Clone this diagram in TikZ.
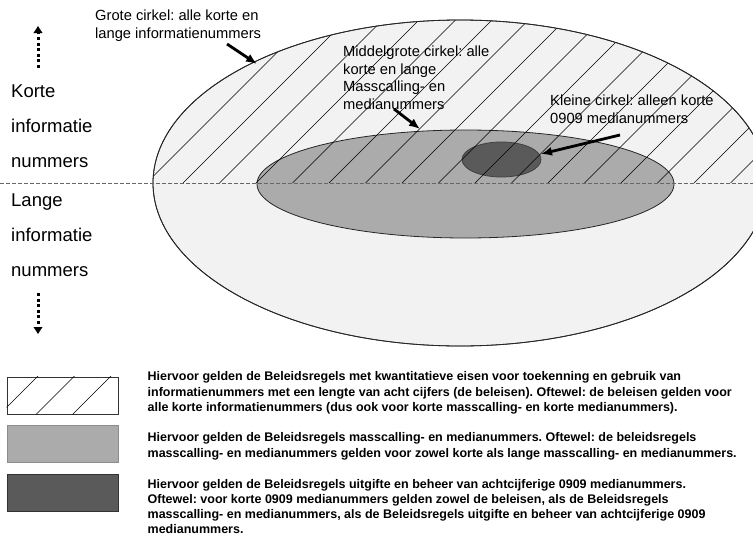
\documentclass[tikz,border=0pt]{standalone}
\usepackage{fontspec}
\setsansfont{Liberation Sans}
\usetikzlibrary{arrows.meta,positioning}
\definecolor{outergray}{HTML}{F2F2F2}
\definecolor{middlegray}{HTML}{ABABAB}
\definecolor{innergray}{HTML}{5A5A5A}
\frenchspacing

\begin{document}
\begin{tikzpicture}[x=1pt,y=-1pt,
    ring/.style={draw=black!85,line width=0.8pt},
    hatchline/.style={black,line width=0.6pt},
    cut/.style={draw=black!60,line width=1pt,dash pattern=on 3.5pt off 2.5pt},
    side/.style={inner sep=0pt,anchor=base west,font=\sffamily\fontsize{18.5}{22}\selectfont},
    annot/.style={inner sep=0pt,anchor=north west,align=left,
      font=\sffamily\fontsize{14.7}{17.5}\selectfont},
    pointer/.style={-{Latex[length=11pt,width=9pt]},line width=2.8pt},
    updown/.style={-{Triangle[length=7pt,width=8.5pt]},line width=3pt,
      dash pattern=on 3pt off 2.6pt},
    legbox/.style={rectangle,minimum width=111pt,minimum height=37pt,
      inner sep=0pt,line width=0.9pt},
    legtext/.style={inner sep=0pt,align=left,
      font=\sffamily\bfseries\fontsize{12.5}{15.2}\selectfont}]

  \useasboundingbox (0,0) rectangle (753,538);

  \begin{scope}
    \clip (0,0) rectangle (753,538);
    \path[ring,fill=outergray] (460,183) ellipse [x radius=307pt,y radius=163pt];
    \path[ring,fill=middlegray] (465.5,184) ellipse [x radius=208.5pt,y radius=54pt];
    \path[ring,draw=black!75,fill=innergray] (501.5,159.5) ellipse [x radius=39.5pt,y radius=17.5pt];
    \begin{scope}
      \clip (460,183) ellipse [x radius=307pt,y radius=163pt];
      \clip (0,0) rectangle (753,183);
      \foreach \k in {-4,...,16}
        \draw[hatchline] (183+36.5*\k,183) -- ++(175,-175);
    \end{scope}
    \draw[ring] (460,183) ellipse [x radius=307pt,y radius=163pt];
  \end{scope}

  \coordinate (cutL) at (0,183);
  \coordinate (cutR) at (753,183);
  \draw[cut] (cutL) -- (cutR);

  \node[side] (korte) at (11,97) {Korte};
  \node[side] (kinfo) at (11,132) {informatie};
  \node[side] (knum) at (11,167) {nummers};
  \node[side] (lange) at (11,206) {Lange};
  \node[side] (linfo) at (11,241) {informatie};
  \node[side] (lnum) at (11,276) {nummers};

  \coordinate (upfrom) at (38,68);
  \coordinate (upto) at (38,26);
  \coordinate (downfrom) at (38,293);
  \coordinate (downto) at (38,334);
  \draw[updown] (upfrom) -- (upto);
  \draw[updown] (downfrom) -- (downto);

  \node[annot] (grote) at (95,10) {Grote cirkel: alle korte en\\lange informatienummers};
  \node[annot] (middel) at (343,46) {Middelgrote cirkel: alle\\korte en lange\\Masscalling- en\\medianummers};
  \node[annot] (klein) at (550,95) {Kleine cirkel: alleen korte\\0909 medianummers};

  \coordinate (grotefrom) at (227,44);
  \coordinate (groteto) at (257,64);
  \coordinate (middelfrom) at (394,109);
  \coordinate (middelto) at (420,129);
  \coordinate (kleinfrom) at (620,135);
  \coordinate (kleinto) at (541,154);
  \draw[pointer] (grotefrom) -- (groteto);
  \draw[pointer] (middelfrom) -- (middelto);
  \draw[pointer] (kleinfrom) -- (kleinto);

  % legenda
  \node[legbox,draw=black!80,fill=white] (beleisen) at (62.5,395.5) {};
  \begin{scope}
    \clip (beleisen.south west) rectangle (beleisen.north east);
    \foreach \k in {0,1,2}
      \draw[hatchline] ([xshift=-7pt+36.5pt*\k]beleisen.south west) -- ++(40,-40);
  \end{scope}
  \node[legbox,draw=black!45,fill=middlegray] (masscalling) at (62.5,443.5) {};
  \node[legbox,draw=black!80,fill=innergray] (achtcijferig) at (62.5,492.5) {};

  \node[legtext,right=29pt of beleisen,yshift=2.7pt] (txtbeleisen)
    {Hiervoor gelden de Beleidsregels met kwantitatieve eisen voor toekenning en gebruik van\\
     informatienummers met een lengte van acht cijfers (de beleisen). Oftewel: de beleisen gelden voor\\
     alle korte informatienummers (dus ook voor korte masscalling- en korte medianummers).};
  \node[legtext,right=29pt of masscalling,yshift=-2.8pt] (txtmasscalling)
    {Hiervoor gelden de Beleidsregels masscalling- en medianummers. Oftewel: de beleidsregels\\
     masscalling- en medianummers gelden voor zowel korte als lange masscalling- en medianummers.};
  \node[legtext,right=29pt of achtcijferig.north east,anchor=north west,yshift=-5.3pt] (txtachtcijferig)
    {Hiervoor gelden de Beleidsregels uitgifte en beheer van achtcijferige 0909 medianummers.\\
     Oftewel: voor korte 0909 medianummers gelden zowel de beleisen, als de Beleidsregels\\
     masscalling- en medianummers, als de Beleidsregels uitgifte en beheer van achtcijferige 0909\\
     medianummers.};

\end{tikzpicture}
\end{document}
